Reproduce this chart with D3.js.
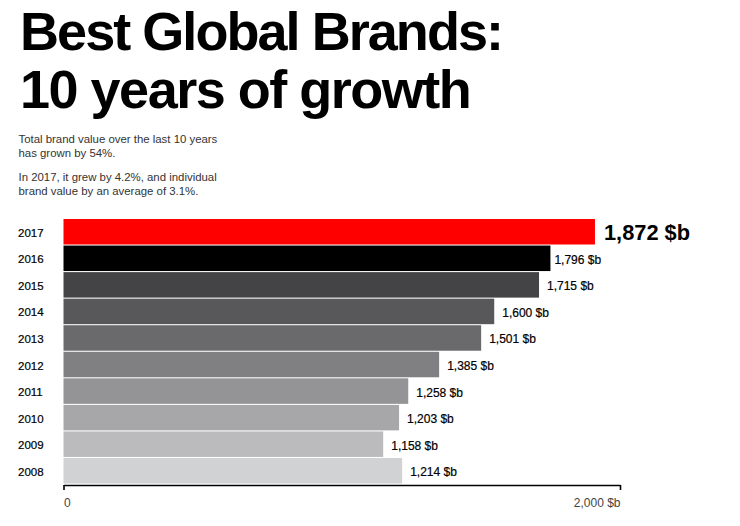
<!DOCTYPE html>
<html><head><meta charset="utf-8">
<script src="https://cdn.jsdelivr.net/npm/d3@7"></script>
<style>html,body{margin:0;padding:0;background:#fff}svg{display:block}text{font-family:"Liberation Sans",Arial,sans-serif}</style>
</head><body><svg id="c" width="740" height="526"></svg>
<script>
const years=["2017","2016","2015","2014","2013","2012","2011","2010","2009","2008"];
const valueLabels=["1,872 $b","1,796 $b","1,715 $b","1,600 $b","1,501 $b","1,385 $b","1,258 $b","1,203 $b","1,158 $b","1,214 $b"];
// bar lengths as drawn in the picture, read against its 0–2,000 axis
const barLengths=[1910,1750,1709,1548,1501,1350,1239,1206,1149,1217];
const barColors=["#ff0000","#000000","#444446","#58585a","#6a6a6c","#808082","#949496","#a7a7a9","#bbbbbd","#d1d2d4"];
const axisTicks=[0,2000];
const titleLines=["Best Global Brands:","10 years of growth"];
const introLines=["Total brand value over the last 10 years","has grown by 54%.","In 2017, it grew by 4.2%, and individual","brand value by an average of 3.1%."];

const svg=d3.select("#c");
const x=d3.scaleLinear().domain([0,2000]).range([63.5,620]);
const y=d3.scaleBand().domain(years).range([219,483.5]).paddingInner(0.04).paddingOuter(0);

svg.selectAll("text.title").data(titleLines).join("text").attr("class","title")
 .attr("x",20).attr("y",(d,i)=>[49.5,107.5][i])
 .attr("font-size",54).attr("font-weight",700).attr("letter-spacing",(d,i)=>i===0?-1.95:-1.5).attr("fill","#000").text(d=>d);

svg.selectAll("text.intro").data(introLines).join("text").attr("class","intro")
 .attr("x",18.5).attr("y",(d,i)=>[142.5,156.5,180.5,194.5][i])
 .attr("font-size",11.4).attr("fill","#333").text(d=>d);

svg.selectAll("rect.bar").data(years).join("rect").attr("class","bar")
 .attr("x",x(0)).attr("y",d=>y(d)).attr("height",y.bandwidth())
 .attr("width",(d,i)=>x(barLengths[i])-x(0)).attr("fill",(d,i)=>barColors[i]);

svg.selectAll("text.year").data(years).join("text").attr("class","year")
 .attr("x",18).attr("y",d=>y(d)+y.bandwidth()/2+5)
 .attr("font-size",11.5).attr("stroke","#000").attr("stroke-width",0.2).attr("fill","#000").text(d=>d);

svg.selectAll("text.val").data(years).join("text").attr("class","val")
 .attr("x",(d,i)=>x(barLengths[i])+(i===0?9:i===1?4:8))
 .attr("y",(d,i)=>y(d)+y.bandwidth()/2+(i===0?8:5.5))
 .attr("font-size",(d,i)=>i===0?21.8:12)
 .attr("font-weight",(d,i)=>i===0?700:400)
 .attr("stroke",(d,i)=>i===0?"none":"#000").attr("stroke-width",0.2)
 .attr("fill","#000").text((d,i)=>valueLabels[i]);

const axis=d3.axisBottom(x).tickValues(axisTicks).tickSizeOuter(0).tickSizeInner(5)
 .tickFormat(d=>d===0?"0":d3.format(",")(d)+" $b");
const g=svg.append("g").attr("transform","translate(0,485)").call(axis);
g.select(".domain").attr("stroke","#000").attr("stroke-width",1.6);
g.selectAll(".tick line").attr("stroke","#000").attr("stroke-width",1.6);
g.selectAll(".tick text").attr("y",22).attr("dy",0).attr("font-size",12).attr("fill","#444")
 .attr("text-anchor",d=>d===0?"start":"end")
 .attr("font-family",'"Liberation Sans"');
</script></body></html>
